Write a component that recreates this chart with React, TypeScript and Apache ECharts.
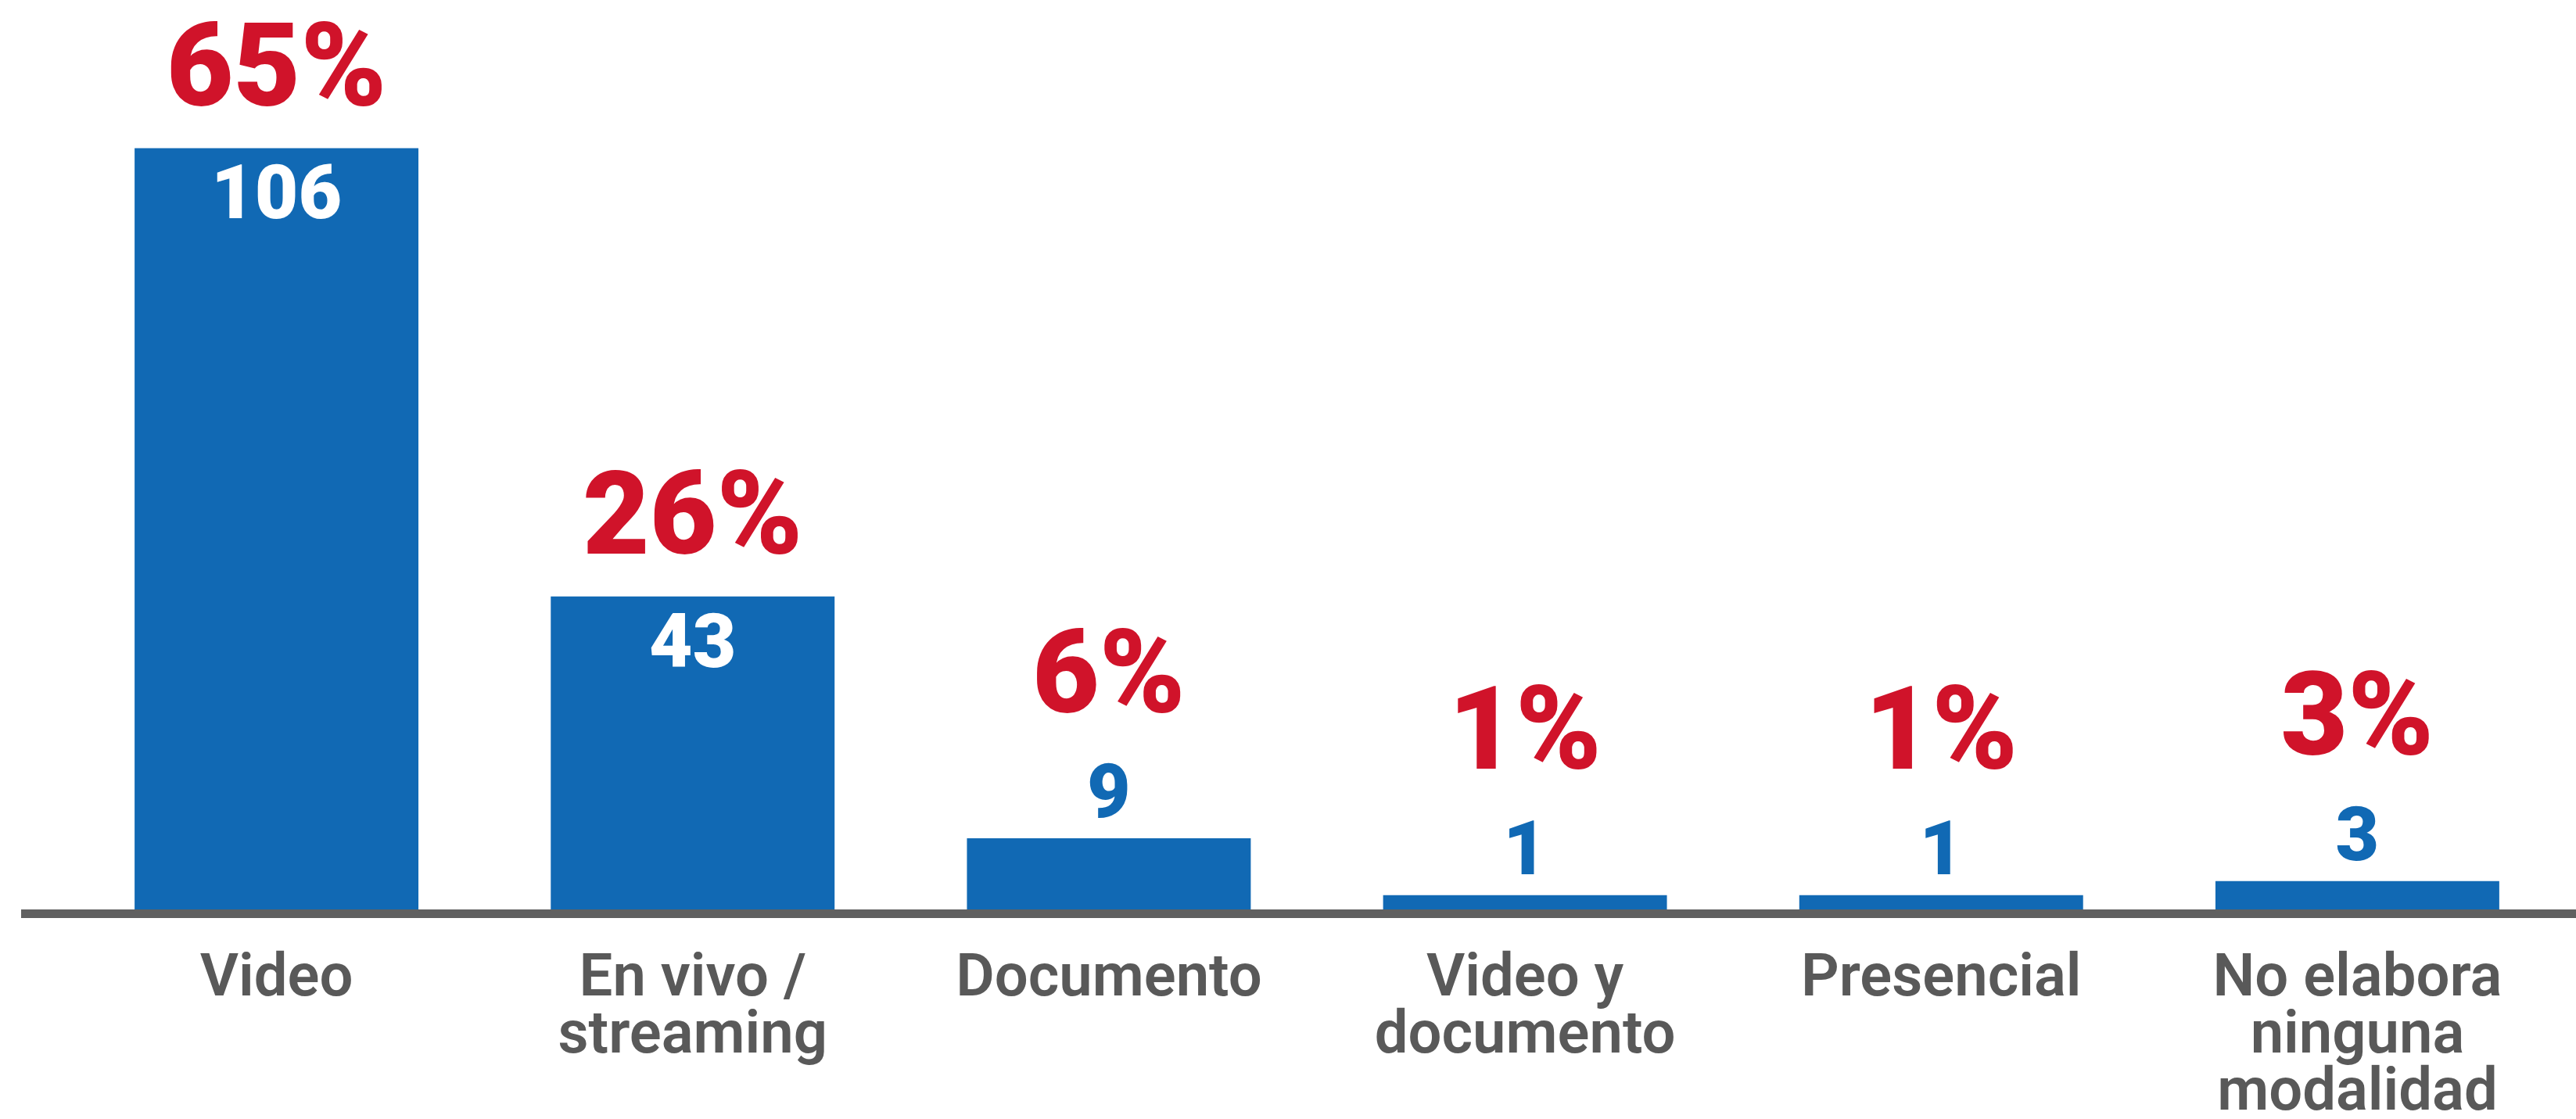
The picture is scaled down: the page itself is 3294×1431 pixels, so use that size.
import React, { useEffect, useRef } from "react";
import * as echarts from "echarts";

const categories = [
  "Video",
  "En vivo /\nstreaming",
  "Documento",
  "Video y\ndocumento",
  "Presencial",
  "No elabora\nninguna\nmodalidad",
];
const counts = [106, 43, 9, 1, 1, 3];
const percents = [65, 26, 6, 1, 1, 3];

const BLUE = "#1169B4";
const RED = "#D0132A";
const GRAY_LINE = "#606060";
const GRAY_TEXT = "#595959";
const FONT = "Roboto, 'Noto Sans', sans-serif";
const Y_MIN = -1.6;
const Y_MAX = 120;

export default function App() {
  const ref = useRef<HTMLDivElement>(null);

  useEffect(() => {
    if (!ref.current) return;
    const chart = echarts.init(ref.current, null, { renderer: "svg" });

    const option: any = {
      animation: false,
      backgroundColor: "#ffffff",
      grid: { left: 87.5, right: 13.5, top: 62, bottom: 262.5, containLabel: false },
      xAxis: {
        type: "category",
        data: categories,
        axisLine: { show: false, onZero: false },
        axisTick: { show: false },
        axisLabel: {
          interval: 0,
          margin: 42,
          color: GRAY_TEXT,
          fontFamily: FONT,
          fontSize: 76,
          fontWeight: 600,
          lineHeight: 73,
          align: "center",
          verticalAlign: "top",
        },
        splitLine: { show: false },
      },
      yAxis: {
        type: "value",
        min: Y_MIN,
        max: Y_MAX,
        show: false,
      },
      graphic: [
        {
          type: "rect",
          z: 100,
          shape: { x: 27, y: 1163, width: 3294 - 27, height: 11 },
          style: { fill: GRAY_LINE },
        },
      ],
      series: [
        {
          type: "custom",
          data: counts.map((v, i) => [i, v]),
          renderItem: (params: any, api: any) => {
            const i = api.value(0);
            const v = api.value(1);
            const top = api.coord([i, v]);
            const base = api.coord([i, Y_MIN]);
            const bw = api.size([1, 0])[0] * 0.682;
            const h = base[1] - top[1];
            const inside = h > 200;
            const blueY = inside ? top[1] + 57 : top[1] - 60;
            const redY = inside ? top[1] - 105 : top[1] - 212;
            return {
              type: "group",
              children: [
                {
                  type: "rect",
                  shape: { x: top[0] - bw / 2, y: top[1], width: bw, height: h },
                  style: { fill: BLUE },
                },
                {
                  type: "text",
                  style: {
                    text: String(v),
                    x: top[0],
                    y: blueY,
                    align: "center",
                    verticalAlign: "middle",
                    fill: inside ? "#ffffff" : BLUE,
                    fontFamily: FONT,
                    fontSize: 96,
                    fontWeight: 900,
                    lineHeight: 90,
                  },
                },
                {
                  type: "text",
                  style: {
                    text: percents[params.dataIndex] + "%",
                    x: top[0],
                    y: redY,
                    align: "center",
                    verticalAlign: "middle",
                    fill: RED,
                    fontFamily: FONT,
                    fontSize: 148,
                    fontWeight: 900,
                    lineHeight: 124,
                  },
                },
              ],
            };
          },
        },
      ],
    };

    chart.setOption(option);
    return () => chart.dispose();
  }, []);

  return (
    <div
      ref={ref}
      style={{ position: "absolute", left: 0, top: 0, width: 3294, height: 1431 }}
    />
  );
}
